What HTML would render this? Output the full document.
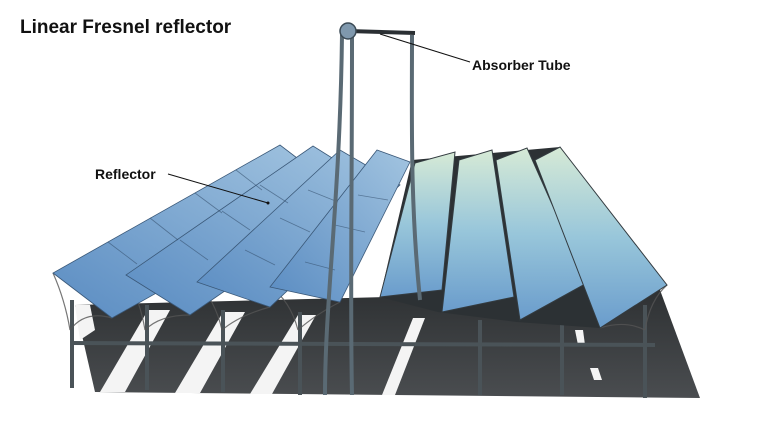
<!DOCTYPE html>
<html><head><meta charset="utf-8"><style>
body{margin:0;background:#fff;width:760px;height:427px;overflow:hidden;font-family:"Liberation Sans",sans-serif}
</style></head><body>
<svg width="760" height="427" viewBox="0 0 760 427" xmlns="http://www.w3.org/2000/svg">
<defs>
<linearGradient id="gl" x1="0" y1="1" x2="1" y2="0"><stop offset="0" stop-color="#5a8cc2"/><stop offset="1" stop-color="#a2c4e0"/></linearGradient>
<linearGradient id="gr" x1="0" y1="0" x2="0" y2="1"><stop offset="0" stop-color="#d6ead6"/><stop offset="0.5" stop-color="#98c6da"/><stop offset="1" stop-color="#6a9ccc"/></linearGradient>
<linearGradient id="gs" x1="0" y1="0" x2="0" y2="1"><stop offset="0" stop-color="#2e3133"/><stop offset="1" stop-color="#4a4d50"/></linearGradient>
</defs>
<text x="20" y="33" font-size="19" font-weight="bold" fill="#111">Linear Fresnel reflector</text>
<!-- ground shadow -->
<polygon points="75,305 660,290 700,398 95,392" fill="url(#gs)"/>
<g fill="#f4f4f4">
<polygon points="75,305 90,305 95,330 80,340"/>
<polygon points="148,310 170,310 125,392 100,392"/>
<polygon points="223,312 245,312 200,393 175,393"/>
<polygon points="298,315 316,315 272,394 250,394"/>
<polygon points="413,318 425,318 395,395 382,395"/>
<polygon points="575,330 583,330 585,345 578,345"/>
<polygon points="590,368 598,368 602,380 594,380"/>
</g>
<!-- frame -->
<g stroke="#4a5358" stroke-width="4" fill="none">
<line x1="70" y1="343" x2="655" y2="345"/>
<line x1="72" y1="300" x2="72" y2="388"/>
<line x1="147" y1="305" x2="147" y2="390"/>
<line x1="223" y1="310" x2="223" y2="392"/>
<line x1="300" y1="312" x2="300" y2="395"/>
<line x1="480" y1="320" x2="480" y2="395"/>
<line x1="562" y1="318" x2="562" y2="395"/>
<line x1="645" y1="305" x2="645" y2="398"/>
</g>
<g stroke="#555" stroke-width="1.2" fill="none" opacity="0.8">
<path d="M53,273 Q65,300 70,330 M112,318 Q85,310 70,330"/>
<path d="M126,275 Q140,300 145,330 M190,315 Q160,315 145,330"/>
<path d="M197,282 Q215,300 222,330 M270,307 Q240,315 222,330"/>
<path d="M270,287 Q290,300 298,330 M340,302 Q315,315 298,330"/>
<path d="M600,328 Q625,320 645,330 M667,285 Q650,300 645,330"/>
</g>
<!-- right array backing -->
<polygon points="412,160 560,147 600,328 517,322 438,312 380,297" fill="#2c3134"/>
<!-- right array -->
<g stroke="#333b40" stroke-width="1">
<polygon points="415,163 455,152 442,290 380,297" fill="url(#gr)"/>
<polygon points="459,160 492,150 514,297 442,312" fill="url(#gr)"/>
<polygon points="496,160 527,148 587,283 520,320" fill="url(#gr)"/>
<polygon points="535,160 560,147 667,285 600,328" fill="url(#gr)"/>
</g>
<!-- left array -->
<g stroke="#3a5878" stroke-width="0.8">
<polygon points="53,273 112,318 339,190 280,145" fill="url(#gl)"/>
<polygon points="126,275 190,315 377,186 313,146" fill="url(#gl)"/>
<polygon points="197,282 270,307 400,185 340,150" fill="url(#gl)"/>
<polygon points="270,287 340,302 410,162 377,150" fill="url(#gl)"/>
</g>
<g stroke="#35506e" stroke-width="0.8" opacity="0.6">
<line x1="108" y1="242" x2="137" y2="264"/><line x1="150" y1="218" x2="178" y2="240"/><line x1="195" y1="193" x2="222" y2="213"/><line x1="236" y1="170" x2="262" y2="190"/>
<line x1="180" y1="240" x2="208" y2="260"/><line x1="222" y1="211" x2="250" y2="230"/><line x1="260" y1="185" x2="288" y2="203"/>
<line x1="245" y1="250" x2="275" y2="265"/><line x1="280" y1="218" x2="310" y2="232"/><line x1="308" y1="190" x2="338" y2="202"/>
<line x1="305" y1="262" x2="335" y2="270"/><line x1="335" y1="225" x2="365" y2="232"/><line x1="358" y1="195" x2="388" y2="200"/>
</g>
<!-- tower -->
<g stroke="#5a6a74" stroke-width="4" fill="none">
<path d="M342,35 C340,200 325,300 325,395"/>
<path d="M352,35 C352,200 350,300 352,395"/>
<path d="M412,35 C412,120 410,200 420,300"/>
</g>
<line x1="348" y1="31" x2="415" y2="33" stroke="#2a2f33" stroke-width="4"/>
<circle cx="348" cy="31" r="8" fill="#7f98ad" stroke="#3b4a55" stroke-width="1.5"/>
<!-- labels -->
<line x1="380" y1="34" x2="470" y2="62" stroke="#111" stroke-width="1"/>
<text x="472" y="70" font-size="14" font-weight="bold" fill="#111">Absorber Tube</text>
<line x1="168" y1="174" x2="268" y2="203" stroke="#111" stroke-width="1"/>
<circle cx="268" cy="203" r="1.5" fill="#111"/>
<text x="95" y="179" font-size="14" font-weight="bold" fill="#111">Reflector</text>
</svg>
</body></html>
